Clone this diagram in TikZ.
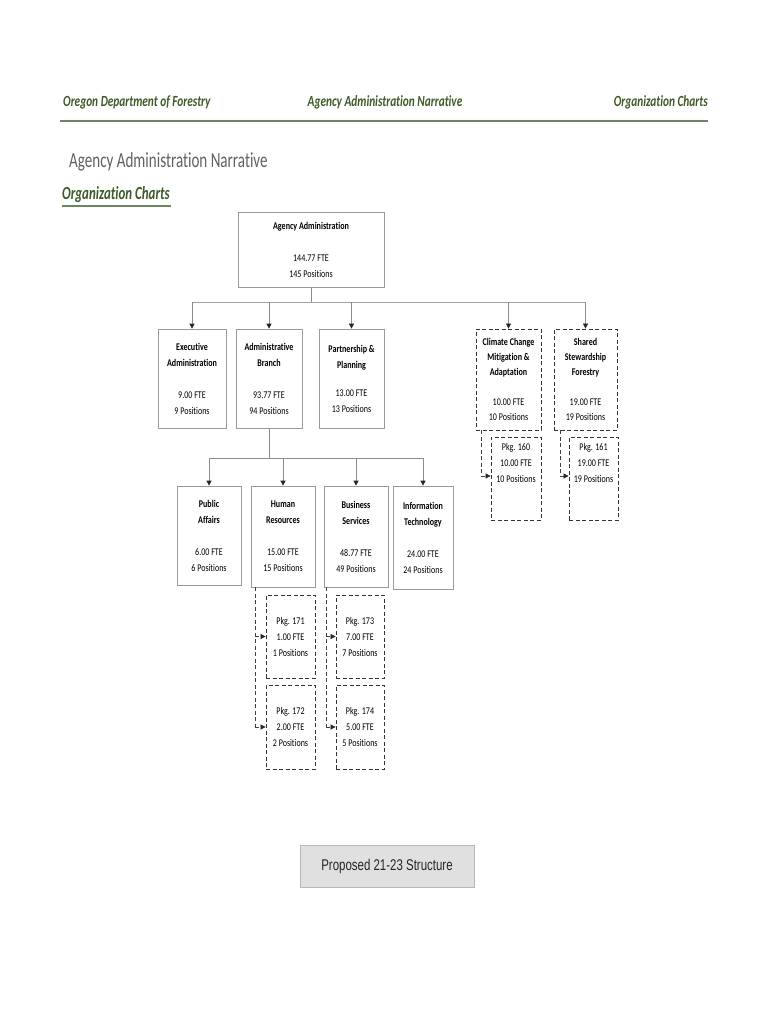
\documentclass[tikz,border=0pt]{standalone}
\usepackage{fontspec}
\setmainfont{Carlito}
\newfontfamily\cfont[FakeStretch=0.78,Ligatures=NoCommon]{Carlito}
\newfontfamily\hfont[FakeStretch=0.73,Ligatures=NoCommon]{Carlito}
\newfontfamily\tfont[FakeStretch=0.70,Ligatures=NoCommon]{Carlito}
\newfontfamily\afont[FakeStretch=0.74]{Liberation Sans}
\usetikzlibrary{arrows.meta}
\definecolor{hdrgreen}{HTML}{3E5B27}
\definecolor{rulegreen}{HTML}{6E8660}
\definecolor{linegray}{HTML}{8C8C8C}
\definecolor{boxgray}{HTML}{9A9A9A}
\begin{document}
\begin{tikzpicture}[x=1pt,y=-1pt,
  box/.style={fill=white, align=center, inner sep=0pt, font=\cfont\fontsize{10.3}{16}\selectfont},
  sbox/.style={box, draw=boxgray, line width=0.7pt},
  dbox/.style={box, draw=black!80, line width=0.8pt, dash pattern=on 4pt off 2.5pt},
  conn/.style={draw=linegray, line width=0.7pt},
  arr/.style={conn, -{Triangle[length=5pt,width=5pt,color=black!85]}},
  dconn/.style={draw=black!75, line width=0.7pt, dash pattern=on 4pt off 2.5pt},
  darr/.style={dconn, -{Triangle[length=5pt,width=5pt,color=black!85]}},
  hdr/.style={font=\hfont\bfseries\itshape\fontsize{15.5}{18}\selectfont, text=hdrgreen, inner sep=0pt}
]
\useasboundingbox (0,0) rectangle (770,1024);
\fill[white] (0,0) rectangle (770,1024);

% header
\node[hdr, anchor=west] (h1) at (63,102) {Oregon Department of Forestry};
\node[hdr] (h2) at (385,102) {Agency Administration Narrative};
\node[hdr, anchor=east] (h3) at (708,102) {Organization Charts};
\draw[rulegreen, line width=1.2pt] (60,121) -- (708,121);

\node[anchor=west, inner sep=0pt, text=black!62, font=\tfont\fontsize{21.5}{24}\selectfont] (t1) at (69,162) {Agency Administration Narrative};
\node[anchor=west, inner sep=0pt, text=hdrgreen, font=\tfont\bfseries\itshape\fontsize{18.5}{20}\selectfont] (t2) at (62,195) {Organization Charts};
\draw[rulegreen, line width=1.2pt] (62,206) -- (171,206);

% top box
\node[sbox, minimum width=146, minimum height=75] (aa) at (311,249.5)
  {\textbf{Agency Administration}\\[16pt]144.77 FTE\\145 Positions};

% level 1
\node[sbox, minimum width=68, minimum height=99] (ea) at (192,378.5)
  {\textbf{Executive}\\\textbf{Administration}\\[16pt]9.00 FTE\\9 Positions};
\node[sbox, minimum width=66, minimum height=99] (ab) at (269,378.5)
  {\textbf{Administrative}\\\textbf{Branch}\\[16pt]93.77 FTE\\94 Positions};
\node[sbox, minimum width=65, minimum height=99] (pp) at (351.5,378.5)
  {\textbf{Partnership \&}\\\textbf{Planning}\\[12pt]13.00 FTE\\13 Positions};
\node[dbox, minimum width=65, minimum height=101, font=\cfont\fontsize{10.3}{15}\selectfont] (cc) at (508.5,379.5)
  {\textbf{Climate Change}\\\textbf{Mitigation \&}\\\textbf{Adaptation}\\[15pt]10.00 FTE\\10 Positions};
\node[dbox, minimum width=63, minimum height=101, font=\cfont\fontsize{10.3}{15}\selectfont] (ss) at (585.5,379.5)
  {\textbf{Shared}\\\textbf{Stewardship}\\\textbf{Forestry}\\[15pt]19.00 FTE\\19 Positions};

\node[dbox, minimum width=50, minimum height=83] (p160) at (516,478.5)
  {Pkg. 160\\10.00 FTE\\10 Positions\\[16pt]\mbox{}};
\node[dbox, minimum width=49, minimum height=83] (p161) at (593.5,478.5)
  {Pkg. 161\\19.00 FTE\\19 Positions\\[16pt]\mbox{}};

% level 2
\node[sbox, minimum width=64, minimum height=99] (pa) at (209,535.5)
  {\textbf{Public}\\\textbf{Affairs}\\[16pt]6.00 FTE\\6 Positions};
\node[sbox, minimum width=64, minimum height=101] (hr) at (283,536.5)
  {\textbf{Human}\\\textbf{Resources}\\[16pt]15.00 FTE\\15 Positions};
\node[sbox, minimum width=64, minimum height=101] (bs) at (356,536.5)
  {\textbf{Business}\\\textbf{Services}\\[16pt]48.77 FTE\\49 Positions};
\node[sbox, minimum width=60, minimum height=103] (it) at (423,537.5)
  {\textbf{Information}\\\textbf{Technology}\\[16pt]24.00 FTE\\24 Positions};

% packages
\node[dbox, minimum width=49, minimum height=83] (p171) at (290.5,636.5)
  {Pkg. 171\\1.00 FTE\\1 Positions};
\node[dbox, minimum width=49, minimum height=84] (p172) at (290.5,727)
  {Pkg. 172\\2.00 FTE\\2 Positions};
\node[dbox, minimum width=48, minimum height=83] (p173) at (360,636.5)
  {Pkg. 173\\7.00 FTE\\7 Positions};
\node[dbox, minimum width=48, minimum height=84] (p174) at (360,727)
  {Pkg. 174\\5.00 FTE\\5 Positions};

% proposed
\node[draw=boxgray!70, fill=black!12, line width=0.8pt, minimum width=174, minimum height=42, inner sep=0pt, font=\afont\fontsize{15.5}{17}\selectfont, text=black!85] (prop) at (387,866) {Proposed 21-23 Structure};

% connectors: top
\coordinate (j1) at (311,302);
\coordinate (l1) at (192,302);
\coordinate (r1) at (585.5,302);
\draw[conn] (aa.south) -- (j1);
\draw[conn, draw=linegray!80] (l1) -- (r1);
\draw[arr] (l1) -- (ea.north);
\draw[arr] (j1 -| ab.north) -- (ab.north);
\draw[arr] (j1 -| pp.north) -- (pp.north);
\draw[arr] (j1 -| cc.north) -- (cc.north);
\draw[arr] (r1) -- (ss.north);

% dashed to pkgs 160/161
\coordinate (c1) at (481,476);
\coordinate (c2) at (560,476);
\draw[dconn] (c1 |- cc.south) -- (c1);
\draw[darr] (c1) -- (c1 -| p160.west);
\draw[dconn] (c2 |- ss.south) -- (c2);
\draw[darr] (c2) -- (c2 -| p161.west);

% admin branch to level 2
\coordinate (j2) at (269,458);
\coordinate (l2) at (209,458);
\coordinate (r2) at (423,458);
\draw[conn] (ab.south) -- (j2);
\draw[conn] (l2) -- (r2);
\draw[arr] (l2) -- (pa.north);
\draw[arr] (j2 -| hr.north) -- (hr.north);
\draw[arr] (j2 -| bs.north) -- (bs.north);
\draw[arr] (r2) -- (it.north);

% HR packages
\coordinate (h1a) at (255,636.5);
\coordinate (h1b) at (255,727);
\draw[dconn] (h1a |- hr.south) -- (h1b);
\draw[darr] (h1a) -- (h1a -| p171.west);
\draw[darr] (h1b) -- (h1b -| p172.west);
% BS packages
\coordinate (b1a) at (326,636.5);
\coordinate (b1b) at (326,727);
\draw[dconn] (b1a |- bs.south) -- (b1b);
\draw[darr] (b1a) -- (b1a -| p173.west);
\draw[darr] (b1b) -- (b1b -| p174.west);
\end{tikzpicture}
\end{document}
